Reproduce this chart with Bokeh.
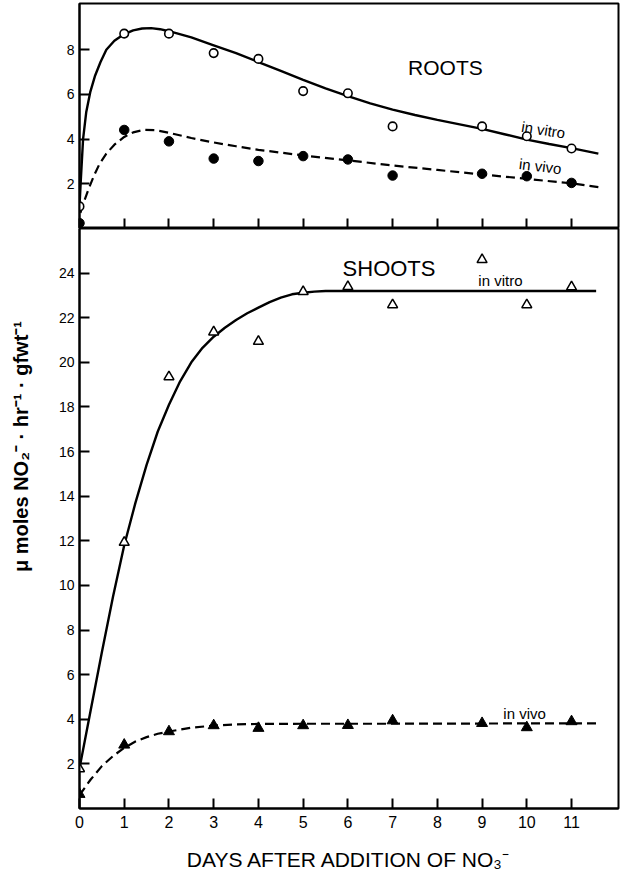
import math
from bokeh.plotting import figure
from bokeh.layouts import column, row
from bokeh.models import FixedTicker, Label, Range1d
from bokeh.embed import file_html
from bokeh.resources import INLINE

# ---------------- data ----------------
days = [0, 1, 2, 3, 4, 5, 6, 7, 9, 10, 11]

roots_in_vitro = [0.99, 8.72, 8.72, 7.85, 7.59, 6.15, 6.05, 4.57, 4.57, 4.13, 3.58]
roots_in_vivo = [0.24, 4.41, 3.90, 3.13, 3.02, 3.24, 3.09, 2.37, 2.45, 2.34, 2.04]

shoots_in_vitro = [1.78, 11.93, 19.35, 21.36, 20.94, 23.17, 23.39, 22.58, 24.60, 22.58, 23.38]
shoots_in_vivo = [0.64, 2.85, 3.45, 3.72, 3.60, 3.72, 3.73, 3.94, 3.82, 3.63, 3.90]

# hand-drawn fitted curves
rvitro_cx = [0, 0.03, 0.08, 0.15, 0.24, 0.35, 0.47, 0.6, 0.78, 1.0, 1.2, 1.4, 1.6, 1.8, 2.0,
             2.5, 3, 3.5, 4, 4.5, 5, 5.5, 6, 6.5, 7, 7.5, 8, 8.5, 9, 9.5, 10, 10.5, 11, 11.6]
rvitro_cy = [1.0, 2.2, 4.0, 5.2, 6.1, 6.85, 7.45, 8.0, 8.4, 8.7, 8.87, 8.95, 8.97, 8.92, 8.83,
             8.55, 8.2, 7.85, 7.45, 7.05, 6.65, 6.27, 5.92, 5.6, 5.32, 5.08, 4.86, 4.66, 4.46,
             4.22, 3.98, 3.78, 3.6, 3.35]

rvivo_cx = [0.02, 0.1, 0.2, 0.32, 0.45, 0.6, 0.78, 1.0, 1.2, 1.45, 1.7, 2.0, 2.5, 3, 3.5, 4,
            5, 6, 7, 8, 9, 10, 11, 11.6]
rvivo_cy = [0.7, 1.2, 1.75, 2.35, 2.9, 3.35, 3.75, 4.1, 4.3, 4.42, 4.4, 4.28, 4.05, 3.85, 3.68,
            3.52, 3.27, 3.05, 2.82, 2.62, 2.42, 2.22, 2.02, 1.85]

svitro_cx = [0, 0.25, 0.5, 0.75, 1.0, 1.25, 1.5, 1.75, 2.0, 2.25, 2.5, 2.75, 3.0, 3.25, 3.5,
             3.75, 4.0, 4.25, 4.5, 4.75, 5.0, 5.25, 5.5, 5.75, 6.0, 8.0, 10.0, 11.55]
svitro_cy = [1.8, 4.4, 7.0, 9.5, 11.8, 13.7, 15.4, 16.9, 18.1, 19.15, 20.0, 20.65, 21.15, 21.55,
             21.9, 22.2, 22.45, 22.7, 22.9, 23.05, 23.12, 23.17, 23.2, 23.2, 23.2, 23.2, 23.2, 23.2]

svivo_cx = [0, 0.25, 0.5, 0.75, 1.0, 1.25, 1.5, 1.75, 2.0, 2.5, 3.0, 3.5, 4.0, 5.0, 7.0, 9.0, 11.64]
svivo_cy = [0.6, 1.3, 1.9, 2.35, 2.72, 3.0, 3.2, 3.35, 3.45, 3.62, 3.72, 3.77, 3.79, 3.8, 3.8,
            3.81, 3.82]

x_ticks = [0, 1, 2, 3, 4, 5, 6, 7, 8, 9, 10, 11]
roots_y_ticks = [2, 4, 6, 8]
shoots_y_ticks = [2, 4, 6, 8, 10, 12, 14, 16, 18, 20, 22, 24]

FONT = "Liberation Sans"
X_RANGE = (0, 12.05)
LEFT = 39


def base_fig(fh, yr, bb, bt):
    p = figure(frame_width=539, frame_height=fh, x_range=Range1d(*X_RANGE),
               y_range=Range1d(*yr), output_backend="svg", toolbar_location=None,
               min_border_left=LEFT, min_border_right=2, min_border_top=bt,
               min_border_bottom=bb)
    p.xgrid.visible = False
    p.ygrid.visible = False
    p.outline_line_color = "black"
    p.outline_line_width = 2
    p.background_fill_color = "white"
    p.border_fill_color = "white"
    for ax in (p.xaxis[0], p.yaxis[0]):
        ax.axis_line_width = 2
        ax.axis_line_color = "black"
        ax.major_tick_in = 10
        ax.major_tick_out = 0
        ax.major_tick_line_width = 2
        ax.minor_tick_line_color = None
        ax.major_label_text_font = FONT
        ax.major_label_text_color = "black"
    p.yaxis.major_label_text_font_size = "14px"
    p.yaxis.major_label_standoff = 5
    p.xaxis.ticker = FixedTicker(ticks=x_ticks)
    return p


# ---------------- ROOTS ----------------
p1 = base_fig(225, (0, 10.07), 0, 3)
p1.yaxis.ticker = FixedTicker(ticks=roots_y_ticks)
p1.xaxis.major_label_text_font_size = "1px"
p1.xaxis.major_label_text_color = None
p1.xaxis.major_label_standoff = 0

p1.line(rvitro_cx, rvitro_cy, line_color="black", line_width=2.4)
p1.line(rvivo_cx, rvivo_cy, line_color="black", line_width=2.2, line_dash="9 5")
p1.scatter(days, roots_in_vitro, marker="circle", size=8.5, fill_color="white",
           line_color="black", line_width=1.6)
p1.scatter(days, roots_in_vivo, marker="circle", size=9.5, fill_color="black",
           line_color="black")

p1.add_layout(Label(x=8.18, y=7.22, text="ROOTS", text_font=FONT, text_font_size="21px",
                    text_align="center", text_baseline="middle", text_color="black"))
p1.add_layout(Label(x=10.37, y=4.42, text="in vitro", text_font=FONT, text_font_size="15px",
                    text_align="center", text_baseline="middle", angle=-0.16, text_color="black"))
p1.add_layout(Label(x=10.3, y=2.79, text="in vivo", text_font=FONT, text_font_size="15px",
                    text_align="center", text_baseline="middle", angle=-0.12, text_color="black"))

# ---------------- SHOOTS ----------------
p2 = base_fig(580, (0, 26.0), 58, 0)
p2.yaxis.ticker = FixedTicker(ticks=shoots_y_ticks)
p2.xaxis.major_label_text_font_size = "16px"
p2.xaxis.major_label_standoff = 7
p2.xaxis.axis_label = "DAYS AFTER ADDITION OF NO\u2083\u207b"
p2.xaxis.axis_label_text_font = FONT
p2.xaxis.axis_label_text_font_size = "21px"
p2.xaxis.axis_label_text_font_style = "normal"
p2.xaxis.axis_label_standoff = 17
p2.xaxis.axis_label_text_color = "black"

p2.line(svitro_cx, svitro_cy, line_color="black", line_width=2.4)
p2.line(svivo_cx, svivo_cy, line_color="black", line_width=2.2, line_dash="9 5")
p2.scatter(days, shoots_in_vitro, marker="triangle", size=10, fill_color="white",
           line_color="black", line_width=1.5)
p2.scatter(days, shoots_in_vivo, marker="triangle", size=11, fill_color="black",
           line_color="black")

p2.add_layout(Label(x=6.92, y=24.22, text="SHOOTS", text_font=FONT, text_font_size="22px",
                    text_align="center", text_baseline="middle", text_color="black"))
p2.add_layout(Label(x=9.41, y=23.66, text="in vitro", text_font=FONT, text_font_size="15px",
                    text_align="center", text_baseline="middle", text_color="black"))
p2.add_layout(Label(x=9.95, y=4.27, text="in vivo", text_font=FONT, text_font_size="15px",
                    text_align="center", text_baseline="middle", text_color="black"))

# ---------------- shared y-axis title (narrow side panel) ----------------
H = 866
pl = figure(width=40, height=H, x_range=Range1d(0, 40), y_range=Range1d(0, H),
            x_axis_type=None, y_axis_type=None, output_backend="svg",
            toolbar_location=None, min_border=0)
pl.outline_line_color = None
pl.xgrid.visible = False
pl.ygrid.visible = False
pl.add_layout(Label(x=20, y=H - 446,
                    text="\u03bc moles NO\u2082\u207b \u00b7 hr\u207b\u00b9 \u00b7 gfwt\u207b\u00b9",
                    text_font=FONT, text_font_size="20px", text_font_style="bold",
                    angle=math.pi / 2, text_align="center", text_baseline="middle",
                    text_color="black"))

layout = row(pl, column(p1, p2, spacing=0), spacing=0)
open("out.html", "w").write(file_html(layout, INLINE))
